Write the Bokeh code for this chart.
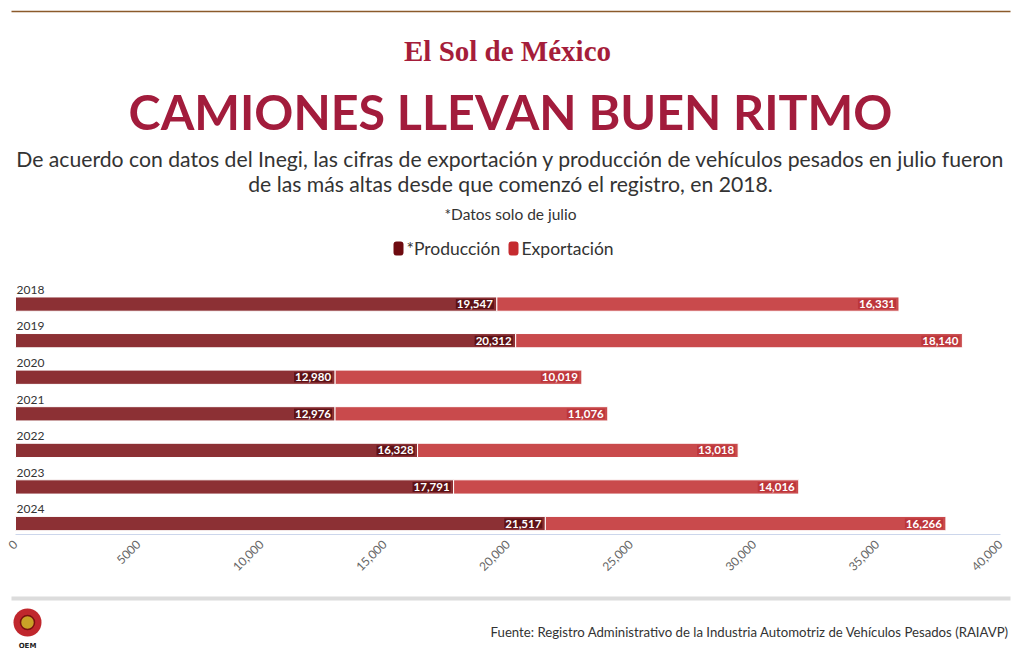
import math
from bokeh.plotting import figure
from bokeh.models import (ColumnDataSource, Range1d, FactorRange, FixedTicker,
                          NumeralTickFormatter)
from bokeh.transform import dodge
from bokeh.layouts import column
from bokeh.core.properties import value
from bokeh.embed import file_html
from bokeh.resources import INLINE

# ---------------- data ----------------
years = ["2018", "2019", "2020", "2021", "2022", "2023", "2024"]
produccion = [19547, 20312, 12980, 12976, 16328, 17791, 21517]
exportacion = [16331, 18140, 10019, 11076, 13018, 14016, 16266]
x_ticks = [0, 5000, 10000, 15000, 20000, 25000, 30000, 35000, 40000]

title = "CAMIONES LLEVAN BUEN RITMO"
subtitle1 = "De acuerdo con datos del Inegi, las cifras de exportación y producción de vehículos pesados en julio fueron"
subtitle2 = "de las más altas desde que comenzó el registro, en 2018."
note = "*Datos solo de julio"
series_names = ["*Producción", "Exportación"]
source_text = "Fuente: Registro Administrativo de la Industria Automotriz de Vehículos Pesados (RAIAVP)"

FONT = "Lato"
C_PROD = "#8c3034"
C_EXP = "#c94a4c"
C_PROD_LBL = "#5e1216"
C_EXP_LBL = "#bd363b"
C_TITLE = "#a21c3c"
W = 1016
# plot area in page pixels (left / right edge of the value axis)
PX_LEFT, PX_RIGHT = 15, 1000
X_MAX = 40000


def blank(h):
    f = figure(width=W, height=h, x_range=Range1d(0, W), y_range=Range1d(h, 0),
               output_backend="svg", toolbar_location=None, min_border=0,
               outline_line_color=None, background_fill_color="white",
               border_fill_color="white")
    f.axis.visible = False
    f.grid.visible = False
    return f


# ---------------- header ----------------
HH = 262
hd = blank(HH)
hd.segment(x0=[11], y0=[11], x1=[1010], y1=[11], line_color="#8b5a2b", line_width=1.5)
hd.text(x=[507], y=[50], text=["El Sol de México"], text_font=value("Liberation Serif"),
        text_font_style="bold", text_font_size="29px", text_color="#a51d3a",
        text_align="center", text_baseline="middle")
hd.text(x=[510], y=[110], text=[title], text_font=value(FONT), text_font_style="bold",
        text_font_size="48.4px", text_color=C_TITLE, text_align="center",
        text_baseline="middle")
hd.text(x=[510, 510], y=[158, 183], text=[subtitle1, subtitle2], text_font=value(FONT),
        text_font_size="21.2px", text_color="#333333", text_align="center",
        text_baseline="middle")
hd.text(x=[510], y=[213], text=[note], text_font=value(FONT), text_font_size="15.5px",
        text_color="#333333", text_align="center", text_baseline="middle")
# legend
hd.quad(left=[393, 508], right=[403, 518], top=[241, 241], bottom=[255, 255],
        fill_color=["#6e0b10", "#c52b2f"], line_color=None, border_radius=3)
hd.text(x=[406, 521], y=[248, 248], text=series_names, text_font=value(FONT),
        text_font_size="17.5px", text_color="#333333", text_align="left",
        text_baseline="middle")

# ---------------- chart ----------------
ends = [p + e for p, e in zip(produccion, exportacion)]
src = ColumnDataSource(dict(
    year=years, prod=produccion, exp=exportacion, end=ends,
    zero=[0] * len(years),
    prod_lbl=[f"{v:,}" for v in produccion],
    exp_lbl=[f"{v:,}" for v in exportacion],
))

# frame spans the full width; the range is widened so that 0 and 40,000 fall
# on the plot-area edges (keeps frames of stacked figures aligned)
per_px = X_MAX / (PX_RIGHT - PX_LEFT)
x_range = Range1d(-PX_LEFT * per_px, X_MAX + (W - PX_RIGHT) * per_px)

ch = figure(width=W, height=330, x_range=x_range,
            y_range=FactorRange(factors=list(reversed(years)), range_padding=0),
            output_backend="svg", toolbar_location=None,
            min_border_left=0, min_border_right=0, min_border_top=16,
            min_border_bottom=58, outline_line_color=None,
            background_fill_color="white", border_fill_color="white")
ch.yaxis.visible = False
ch.grid.visible = False

bar_y = dodge("year", -0.2, range=ch.y_range)
ch.hbar(y=bar_y, left="zero", right="prod", height=0.39, source=src,
        fill_color=C_PROD, line_color="white", line_width=1)
ch.hbar(y=bar_y, left="prod", right="end", height=0.39, source=src,
        fill_color=C_EXP, line_color="white", line_width=1)

lbl_kw = dict(text_font=value(FONT), text_font_style="bold", text_font_size="11.5px",
              text_color="white", text_align="right", text_baseline="middle",
              x_offset=-3, padding=1)
ch.text(x="prod", y=bar_y, text="prod_lbl", source=src,
        background_fill_color=C_PROD_LBL, **lbl_kw)
ch.text(x="end", y=bar_y, text="exp_lbl", source=src,
        background_fill_color=C_EXP_LBL, **lbl_kw)

ch.text(x="zero", y=dodge("year", 0.19, range=ch.y_range), text="year", source=src,
        text_font=value(FONT), text_font_size="12px", text_color="#333333",
        text_align="left", text_baseline="middle", x_offset=1)

ax = ch.xaxis[0]
ax.bounds = (0, X_MAX)
ax.ticker = FixedTicker(ticks=x_ticks)
ax.formatter = NumeralTickFormatter(format="0,0")
ax.major_label_overrides = {5000: "5000"}
ax.major_label_orientation = math.pi / 4
ax.major_label_text_font = FONT
ax.major_label_text_font_size = "12px"
ax.major_label_text_color = "#666666"
ax.axis_line_color = "#ccd6eb"
ax.major_tick_line_color = "#ccd6eb"
ax.major_tick_in = 0
ax.major_tick_out = 0
ax.minor_tick_line_color = None
ax.major_label_standoff = 8

# ---------------- footer ----------------
FH = 68
ft = blank(FH)
ft.segment(x0=[11], y0=[6], x1=[1010], y1=[6], line_color="#dcdcdc", line_width=4)
ft.scatter(x=[27], y=[30], marker="circle", size=28, fill_color="#c0272d", line_color=None)
ft.scatter(x=[27], y=[30], marker="circle", size=14, fill_color="#c9a227",
           line_color="#7a1010", line_width=1.5)
ft.text(x=[27], y=[53], text=["OEM"], text_font=value("DejaVu Sans"),
        text_font_style="bold", text_font_size="7px", text_color="#222222",
        text_align="center", text_baseline="middle")
ft.text(x=[1009], y=[39], text=[source_text], text_font=value(FONT),
        text_font_size="13.2px", text_color="#333333", text_align="right",
        text_baseline="middle")

layout = column(hd, ch, ft, spacing=0)
open("out.html", "w").write(file_html(layout, INLINE))
